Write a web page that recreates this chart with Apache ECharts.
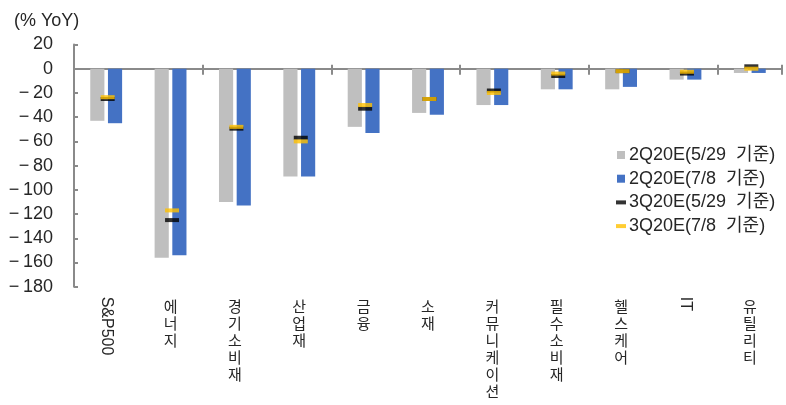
<!DOCTYPE html>
<html>
<head>
<meta charset="utf-8">
<script src="https://cdn.jsdelivr.net/npm/echarts@6/dist/echarts.min.js"></script>
<style>html,body{margin:0;padding:0;background:#fff;}#c{width:786px;height:405px;}</style>
</head>
<body>
<div id="c"></div>
<script>
const categories = ['S&P500','에너지','경기소비재','산업재','금융','소재','커뮤니케이션','필수소비재','헬스케어','IT','유틸리티'];
const latinCats = ['S&P500','IT'];
const seriesNames = ['2Q20E(5/29  기준)','2Q20E(7/8  기준)','3Q20E(5/29  기준)','3Q20E(7/8  기준)'];
const q2_0529 = [-43,-156,-110,-89,-48,-36.5,-30,-17,-17,-9,-3.5];
const q2_0708 = [-45,-154,-113,-89,-53,-38,-30,-17,-15,-9,-3.5];
const q3_0529 = [-25,-125,-49.5,-57,-33,-25,-18,-6,-2,-4,2];
const q3_0708 = [-23.5,-117,-48,-60,-30,-25,-20,-4,-2,-2.5,0];
const yMin = -180, yMax = 20, yStep = 20;

const FONT = "'Liberation Sans', 'Noto Sans CJK KR', sans-serif";
const AXIS_GRAY = '#8a8a8a';
const TEXT = '#262626';

const chart = echarts.init(document.getElementById('c'), null, {renderer: 'canvas'});
const baseX = {type: 'category', data: categories, gridIndex: 0};
chart.setOption({
  animation: false,
  backgroundColor: '#fff',
  title: {text: '(% YoY)', left: 9, top: 7, textStyle: {fontFamily: FONT, fontSize: 18, fontWeight: 'normal', color: TEXT}},
  grid: {left: 74, right: 4, top: 44.5, bottom: 118.3, containLabel: false},
  legend: {
    orient: 'vertical', left: 611, top: 141, itemWidth: 10, itemHeight: 8, itemGap: 5.7,
    textStyle: {fontFamily: FONT, fontSize: 18, lineHeight: 18, color: TEXT, padding: [0,0,0,-2]},
    data: [
      {name: seriesNames[0], icon: 'path://M0,0h8v8h-8z', itemStyle: {color: '#BFBFBF'}},
      {name: seriesNames[1], icon: 'path://M0,0h8v8h-8z', itemStyle: {color: '#4472C4'}},
      {name: seriesNames[2], icon: 'path://M0,0h10v4h-10z', itemStyle: {color: '#000000'}},
      {name: seriesNames[3], icon: 'path://M0,0h10v4h-10z', itemStyle: {color: '#FFC000'}}
    ]
  },
  xAxis: [
    Object.assign({}, baseX, {
      position: 'bottom',
      axisLine: {onZero: true, onZeroAxisIndex: 0, lineStyle: {color: AXIS_GRAY, width: 2}},
      axisTick: {show: true, inside: false, length: 6, lineStyle: {color: AXIS_GRAY, width: 2}},
      axisLabel: {show: false}, splitLine: {show: false}
    }),
    Object.assign({}, baseX, {
      position: 'bottom',
      axisLine: {show: true, onZero: true, onZeroAxisIndex: 0, lineStyle: {color: AXIS_GRAY, width: 2, opacity: 0}},
      axisTick: {show: true, inside: true, length: 4, lineStyle: {color: AXIS_GRAY, width: 2}},
      axisLabel: {show: false}, splitLine: {show: false}
    }),
    Object.assign({}, baseX, {
      position: 'bottom',
      axisLine: {show: false, onZero: false}, axisTick: {show: false},
      axisLabel: {
        interval: 0, margin: 13, fontFamily: FONT, fontSize: 15, lineHeight: 17, color: TEXT,
        verticalAlign: 'top',
        formatter: v => latinCats.includes(v) ? '' : Array.from(v).join('\n')
      }
    }),
    Object.assign({}, baseX, {
      position: 'bottom',
      axisLine: {show: false, onZero: false}, axisTick: {show: false},
      axisLabel: {
        interval: 0, margin: 10, rotate: -90, fontFamily: FONT, fontSize: 16, color: TEXT,
        formatter: v => latinCats.includes(v) ? v : ''
      }
    })
  ],
  yAxis: {
    type: 'value', min: yMin, max: yMax, interval: yStep,
    axisLine: {show: true, onZero: false, lineStyle: {color: AXIS_GRAY, width: 2}},
    axisTick: {show: true, inside: true, length: 4, lineStyle: {color: AXIS_GRAY, width: 2}},
    splitLine: {show: false},
    axisLabel: {margin: 21, fontFamily: FONT, fontSize: 18, color: TEXT,
      formatter: v => (v < 0 ? '\u2212\u2009' + Math.abs(v) : String(v))}
  },
  series: [
    {name: seriesNames[0], type: 'bar', xAxisIndex: 0, data: q2_0529, barWidth: '22%', barGap: '25%', itemStyle: {color: '#BFBFBF'}},
    {name: seriesNames[1], type: 'bar', xAxisIndex: 0, data: q2_0708, barWidth: '22%', barGap: '25%', itemStyle: {color: '#4472C4'}},
    {name: seriesNames[2], type: 'scatter', xAxisIndex: 0, data: q3_0529, symbol: 'rect', symbolSize: [14, 4], symbolOffset: [1.5, 0], itemStyle: {color: '#000000'}, z: 3},
    {name: seriesNames[3], type: 'scatter', xAxisIndex: 0, data: q3_0708, symbol: 'rect', symbolSize: [14, 4], symbolOffset: [1.5, 0], itemStyle: {color: '#FFC000'}, z: 4}
  ]
});
</script>
</body>
</html>
